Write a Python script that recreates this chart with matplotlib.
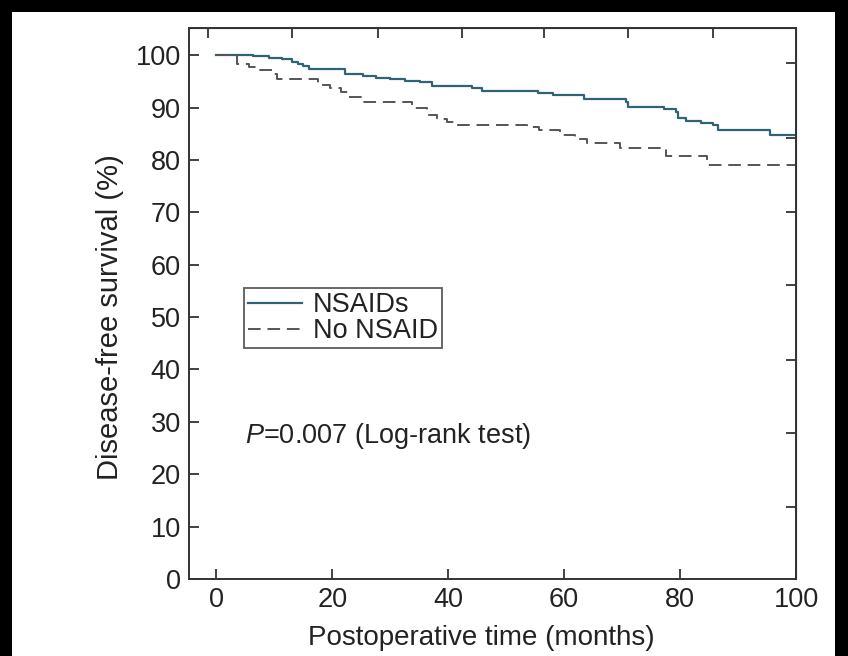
import matplotlib
matplotlib.use("Agg")
import matplotlib.pyplot as plt
from matplotlib.patches import Rectangle

# Kaplan-Meier steps
nsaid_t = [0, 6.4, 9.1, 11.4, 13.1, 14.1, 15.0, 16.0, 22.2, 25.3, 27.6, 29.9, 32.6,
           35.2, 37.2, 44.2, 45.9, 55.5, 58.0, 63.4, 70.6, 71.1, 77.3, 79.3, 79.7,
           81.0, 83.6, 85.6, 86.6, 95.6, 100]
nsaid_s = [100, 99.8, 99.5, 99.2, 98.7, 98.4, 98.0, 97.4, 96.5, 96.1, 95.7, 95.4, 95.1,
           94.8, 94.1, 93.8, 93.1, 92.8, 92.4, 91.7, 91.1, 90.1, 89.75, 89.2, 88.1,
           87.5, 87.1, 86.6, 85.8, 84.7, 84.7]

no_t = [0, 3.5, 5.7, 6.9, 9.6, 10.4, 17.6, 19.6, 21.6, 22.8, 25.1, 33.7, 36.3, 38.0,
        39.8, 41.2, 53.6, 55.6, 59.3, 61.9, 63.9, 69.7, 77.5, 84.7, 100]
no_s = [100, 98.4, 97.8, 97.1, 96.5, 95.4, 94.3, 93.8, 93.0, 92.0, 91.1, 90.0, 88.5,
        87.9, 87.3, 86.6, 86.3, 85.8, 84.7, 84.1, 83.3, 82.2, 80.7, 79.0, 79.0]

labels = ["NSAIDs", "No NSAID"]
xticks = [0, 20, 40, 60, 80, 100]
yticks = list(range(0, 101, 10))
# unlabeled ticks on the top and right frame
top_ticks = [-1.5, 13.0, 27.9, 42.4, 56.6, 71.1, 85.6]
right_ticks = [13.7, 27.9, 41.8, 56.1, 70.0, 84.2, 98.5]

plt.rcParams["font.family"] = ["Liberation Sans", "DejaVu Sans"]
plt.rcParams["mathtext.fontset"] = "custom"
plt.rcParams["mathtext.rm"] = "Liberation Sans"
plt.rcParams["mathtext.it"] = "Liberation Sans:italic"

txt = "#222222"
edge = "#333333"

fig = plt.figure(figsize=(8.48, 6.56), dpi=100, facecolor="black")
fig.patches.append(Rectangle((12 / 848, 0), 823 / 848, 1 - 12 / 656,
                             transform=fig.transFigure, facecolor="white",
                             edgecolor="none", zorder=-10))
ax = fig.add_axes([189 / 848, 1 - 579 / 656, 607 / 848, 551 / 656])
ax.set_facecolor("white")

ax.step(nsaid_t, nsaid_s, where="post", color="#2e6378", lw=1.6, label=labels[0])
ax.step(no_t, no_s, where="post", color="#555555", lw=1.4, ls=(0, (6.5, 3.5)),
        label=labels[1])

ax.set_xlim(-4.7, 100)
ax.set_ylim(0, 105.2)
ax.set_xticks(xticks)
ax.set_yticks(yticks)
ax.tick_params(direction="in", length=7, width=1.3, colors=edge, labelsize=19.5,
               labelcolor=txt, pad=6)
for sp in ax.spines.values():
    sp.set_color(edge)
    sp.set_linewidth(1.4)

top = ax.secondary_xaxis("top")
top.set_xticks(top_ticks)
top.tick_params(direction="in", length=7, width=1.3, colors=edge, labeltop=False)
right = ax.secondary_yaxis("right")
right.set_yticks(right_ticks)
right.tick_params(direction="in", length=7, width=1.3, colors=edge, labelright=False)

ax.set_xlabel("Postoperative time (months)", fontsize=20, color=txt)
ax.xaxis.set_label_coords(0.481, -0.083)
ax.set_ylabel("Disease-free survival (%)", fontsize=21, color=txt)
ax.yaxis.set_label_coords(-0.107, 0.475)

leg = ax.legend(loc="upper left", bbox_to_anchor=(0.09, 0.528), borderaxespad=0,
                fontsize=19.5, frameon=True, fancybox=False, handlelength=2.0,
                handletextpad=0.4, labelspacing=0.0, borderpad=0.15)
leg.get_frame().set_edgecolor(edge)
leg.get_frame().set_linewidth(1.3)
for t in leg.get_texts():
    t.set_color(txt)

ax.text(4.9, 27.3, r"$P$=0.007 (Log-rank test)", fontsize=19.5, color=txt,
        ha="left", va="center")

fig.savefig("out.png", dpi=100, facecolor=fig.get_facecolor())
